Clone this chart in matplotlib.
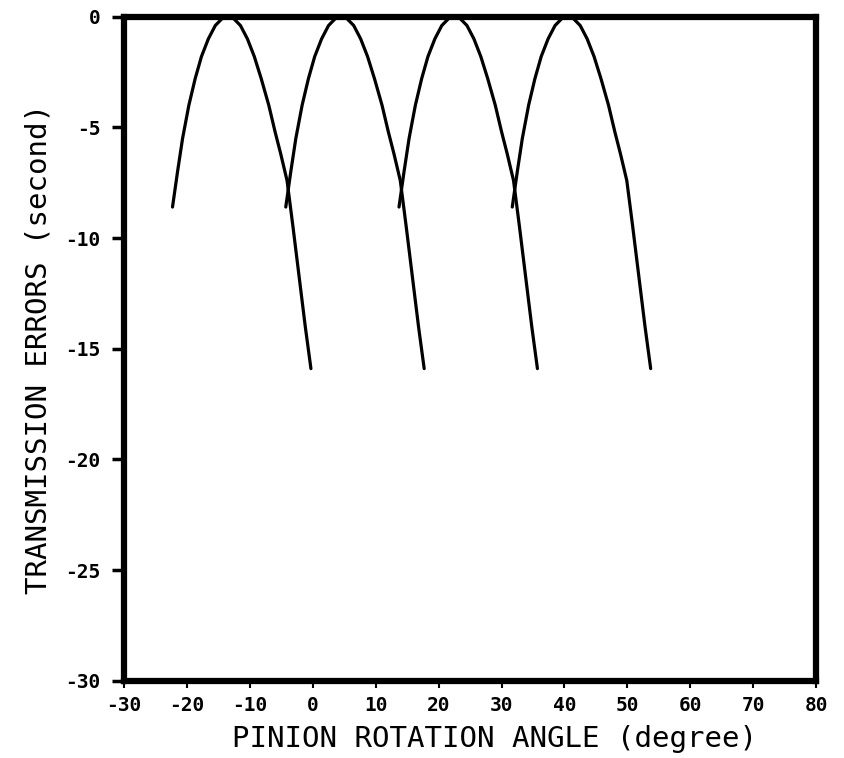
import matplotlib
matplotlib.use("Agg")
import matplotlib.pyplot as plt

plt.rcParams["axes.unicode_minus"] = False

# transmission error levels (second): rising side up to the peak, then falling side
te_levels = [-8.6, -7.0, -5.5, -4.0, -2.8, -1.8, -1.0, -0.4, -0.08, 0.0,
             -0.08, -0.4, -1.0, -1.8, -2.8, -4.0, -5.2, -6.2, -7.4, -8.5,
             -9.5, -11.0, -12.5, -14.0, -15.9]

# pinion rotation angle (degree) read for each curve at the levels above
angle_1 = [-22.3, -21.5, -20.7, -19.7, -18.7, -17.7, -16.6, -15.5, -14.4, -13.5,
           -12.6, -11.5, -10.4, -9.3, -8.2, -7.0, -6.0, -5.1, -4.1, -3.6,
           -3.15, -2.5, -1.85, -1.2, -0.3]
angle_2 = [-4.3, -3.5, -2.7, -1.7, -0.7, 0.3, 1.4, 2.5, 3.6, 4.5,
           5.4, 6.5, 7.6, 8.7, 9.8, 11.0, 12.0, 12.9, 13.9, 14.4,
           14.85, 15.5, 16.15, 16.8, 17.7]
angle_3 = [13.7, 14.5, 15.3, 16.3, 17.3, 18.3, 19.4, 20.5, 21.6, 22.5,
           23.4, 24.5, 25.6, 26.7, 27.8, 29.0, 30.0, 30.9, 31.9, 32.4,
           32.85, 33.5, 34.15, 34.8, 35.7]
angle_4 = [31.7, 32.5, 33.3, 34.3, 35.3, 36.3, 37.4, 38.5, 39.6, 40.5,
           41.4, 42.5, 43.6, 44.7, 45.8, 47.0, 48.0, 48.9, 49.9, 50.4,
           50.85, 51.5, 52.15, 52.8, 53.7]

x_ticks = [-30, -20, -10, 0, 10, 20, 30, 40, 50, 60, 70, 80]
y_ticks = [0, -5, -10, -15, -20, -25, -30]

fig = plt.figure(figsize=(8.44, 7.58), dpi=100)
ax = fig.add_axes([0.147, 0.102, 0.82, 0.876])

for angles in (angle_1, angle_2, angle_3, angle_4):
    ax.plot(angles, te_levels, color="black", linewidth=2.3,
            solid_capstyle="round", solid_joinstyle="round")

ax.set_xlim(-30, 80)
ax.set_ylim(-30, 0)
ax.set_xticks(x_ticks)
ax.set_yticks(y_ticks)

for s in ax.spines.values():
    s.set_linewidth(4.5)
    s.set_color("black")

mono = "DejaVu Sans Mono"
ax.tick_params(axis="y", direction="out", length=9, width=2.5, pad=8)
ax.tick_params(axis="x", direction="out", length=5, width=1.5, pad=6)
for lab in ax.get_xticklabels() + ax.get_yticklabels():
    lab.set_fontfamily(mono)
    lab.set_fontweight("bold")
    lab.set_fontsize(14)

ax.set_xlabel("PINION ROTATION ANGLE (degree)", fontfamily=mono, fontsize=21)
ax.set_ylabel("TRANSMISSION ERRORS (second)", fontfamily=mono, fontsize=21)
ax.xaxis.set_label_coords(0.535, -0.066)
ax.yaxis.set_label_coords(-0.104, 0.5)

fig.savefig("out.png", dpi=100)
